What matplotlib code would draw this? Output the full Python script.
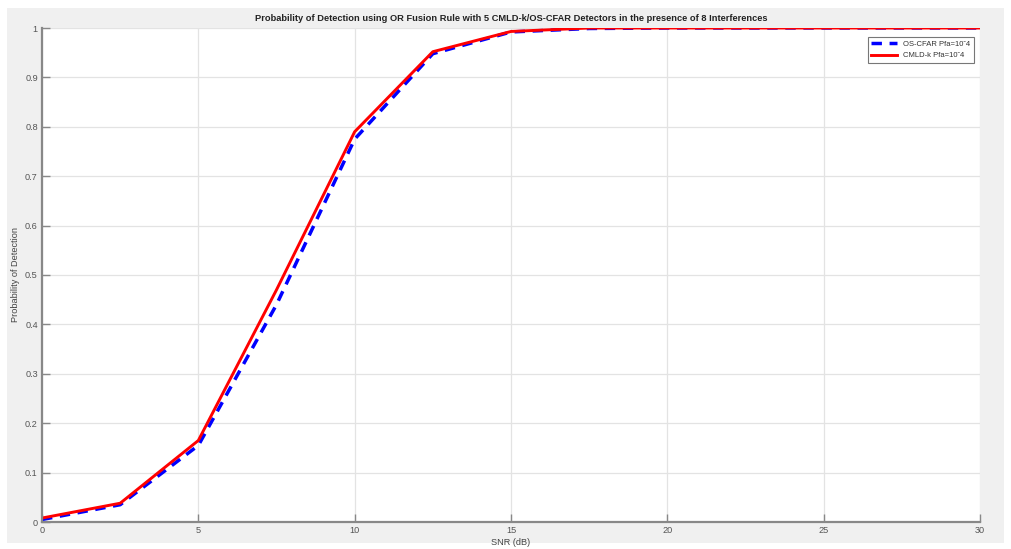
import matplotlib
matplotlib.use("Agg")
import matplotlib.pyplot as plt
from matplotlib.patches import Rectangle

snr = [0, 2.5, 5, 7.5, 10, 12.5, 15, 17.5, 20, 22.5, 25, 27.5, 30]
pd_os = [0.005, 0.035, 0.155, 0.44, 0.775, 0.948, 0.992, 0.999, 1.0, 1.0, 1.0, 1.0, 1.0]
pd_cmld = [0.008, 0.038, 0.165, 0.47, 0.79, 0.952, 0.993, 1.0, 1.0, 1.0, 1.0, 1.0, 1.0]
xticks = [0, 5, 10, 15, 20, 25, 30]
yticks = [0, 0.1, 0.2, 0.3, 0.4, 0.5, 0.6, 0.7, 0.8, 0.9, 1]
ytick_labels = ["0", "0.1", "0.2", "0.3", "0.4", "0.5", "0.6", "0.7", "0.8", "0.9", "1"]

plt.rcParams['font.family'] = ['Liberation Sans', 'DejaVu Sans']

W, H = 1011, 549
fig = plt.figure(figsize=(W / 100, H / 100), dpi=100)
fig.patch.set_facecolor("white")
fig.add_artist(Rectangle((7 / W, 6 / H), (1004 - 7) / W, (542 - 7) / H,
                         transform=fig.transFigure, facecolor="#f0f0f0",
                         edgecolor="none", zorder=-10))

ax = fig.add_axes([42 / W, 1 - 522 / H, (980 - 42) / W, (522 - 28) / H])
ax.set_facecolor("white")

ax.plot(snr, pd_os, color="blue", linestyle=(0, (3, 2.2)), linewidth=2.5,
        label="OS-CFAR Pfa=10ˆ4")
ax.plot(snr, pd_cmld, color="red", linewidth=2.1, label="CMLD-k Pfa=10ˆ4")

ax.set_xlim(0, 30)
ax.set_ylim(0, 1)
ax.set_xticks(xticks)
ax.set_yticks(yticks)
ax.set_yticklabels(ytick_labels)
ax.grid(True, color="#e3e3e3", linewidth=0.9)
ax.set_axisbelow(True)

for s in ["top", "right"]:
    ax.spines[s].set_visible(False)
for s in ["left", "bottom"]:
    ax.spines[s].set_color("#888888")
    ax.spines[s].set_linewidth(1.6)
ax.tick_params(direction="in", length=6, width=1, color="#888888",
               labelsize=6.6, labelcolor="#555555", pad=3)

ax.set_xlabel("SNR (dB)", fontsize=6.6, color="#444444", labelpad=2)
ax.set_ylabel("Probability of Detection", fontsize=6.6, color="#444444", labelpad=4)
ax.set_title("Probability of Detection using OR Fusion Rule with 5 CMLD-k/OS-CFAR Detectors in the presence of 8 Interferences",
             fontsize=6.7, fontweight="bold", color="#222222", pad=5)

leg = ax.legend(loc="upper right", fontsize=5.5, frameon=True, fancybox=False,
                edgecolor="#555555", handlelength=3.4, borderpad=0.45,
                labelspacing=0.6, bbox_to_anchor=(0.9975, 0.99))
leg.get_frame().set_linewidth(0.8)
for t in leg.get_texts():
    t.set_color("#333333")

fig.savefig("out.png", dpi=100, facecolor=fig.get_facecolor())
